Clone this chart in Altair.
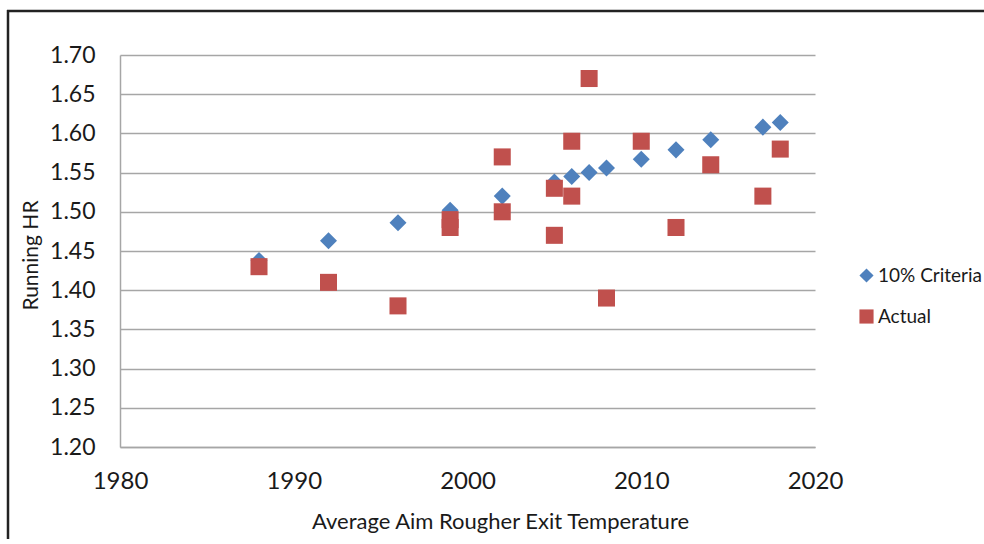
import altair as alt
import pandas as pd

# Data
years_criteria = [1988, 1992, 1996, 1999, 2002, 2005, 2006, 2007, 2008, 2010, 2012, 2014, 2017, 2018]
criteria = [1.438, 1.463, 1.486, 1.502, 1.520, 1.538, 1.545, 1.550, 1.556, 1.567, 1.579, 1.592, 1.608, 1.614]

years_actual = [1988, 1992, 1996, 1999, 1999, 2002, 2002, 2005, 2005, 2006, 2006, 2007, 2008, 2010, 2012, 2014, 2017, 2018]
actual = [1.43, 1.41, 1.38, 1.49, 1.48, 1.57, 1.50, 1.53, 1.47, 1.59, 1.52, 1.67, 1.39, 1.59, 1.48, 1.56, 1.52, 1.58]

series_names = ["10% Criteria", "Actual"]
series_colors = ["#4F81BD", "#C0504D"]
series_shapes = ["diamond", "square"]

y_ticks = [1.20, 1.25, 1.30, 1.35, 1.40, 1.45, 1.50, 1.55, 1.60, 1.65, 1.70]
x_ticks = [1980, 1990, 2000, 2010, 2020]

df = pd.concat([
    pd.DataFrame({"year": years_criteria, "hr": criteria, "series": series_names[0], "order": 0}),
    pd.DataFrame({"year": years_actual, "hr": actual, "series": series_names[1], "order": 1}),
], ignore_index=True)

FONT = "Lato"

points = alt.Chart(df).mark_point(filled=True, opacity=1, size=290).encode(
    x=alt.X("year:Q",
            scale=alt.Scale(domain=[1980, 2020], nice=False, zero=False),
            axis=alt.Axis(values=x_ticks, format="d", title="Average Aim Rougher Exit Temperature",
                          grid=False, ticks=False, labelPadding=22, labelFontSize=24,
                          labelFlush=False,
                          labelFont=FONT, labelColor="#1a1a1a",
                          domainColor="#A6A6A6", domainWidth=1.5,
                          titleFont=FONT, titleFontSize=22, titleFontWeight="normal",
                          titleColor="#1a1a1a", titleX=380, titleY=81,
                          titleBaseline="alphabetic", titleAlign="center")),
    y=alt.Y("hr:Q",
            scale=alt.Scale(domain=[1.2, 1.7], nice=False, zero=False),
            axis=alt.Axis(values=y_ticks, format=".2f", title="Running HR",
                          grid=True, gridColor="#A6A6A6", gridWidth=1.5,
                          ticks=False, labelPadding=25, labelFontSize=23,
                          labelFont=FONT, labelColor="#1a1a1a",
                          domainColor="#A6A6A6", domainWidth=1.5,
                          titleFont=FONT, titleFontSize=21, titleFontWeight="normal",
                          titleColor="#1a1a1a", titleAngle=270, titleX=-83, titleY=200,
                          titleBaseline="alphabetic", titleAlign="center")),
    color=alt.Color("series:N", scale=alt.Scale(domain=series_names, range=series_colors),
                    legend=alt.Legend(title=None, orient="none", legendX=737, legendY=211,
                                      symbolSize=200, labelFont=FONT, labelFontSize=19,
                                      labelColor="#1a1a1a", labelOffset=2, rowPadding=20,
                                      symbolOpacity=1, padding=0)),
    shape=alt.Shape("series:N", scale=alt.Scale(domain=series_names, range=series_shapes)),
    order=alt.Order("order:Q"),
)

# Outer frame: only the left and top edges are visible in the reference
frame_top = alt.Chart(pd.DataFrame({"a": [0]})).mark_rule(
    stroke="#222222", strokeWidth=2.5
).encode(x=alt.value(-113), x2=alt.value(870), y=alt.value(-44))

frame_left = alt.Chart(pd.DataFrame({"a": [0]})).mark_rule(
    stroke="#222222", strokeWidth=2.5
).encode(x=alt.value(-112), y=alt.value(-45), y2=alt.value(490))

chart = alt.layer(frame_top, frame_left, points).properties(
    width=695, height=392,
    padding={"left": 120, "top": 55, "right": 169, "bottom": 92},
    autosize=alt.AutoSizeParams(type="none"),
    background="white",
).configure_view(stroke=None)

chart.save("out.html", embed_options={"renderer": "svg", "actions": False})
